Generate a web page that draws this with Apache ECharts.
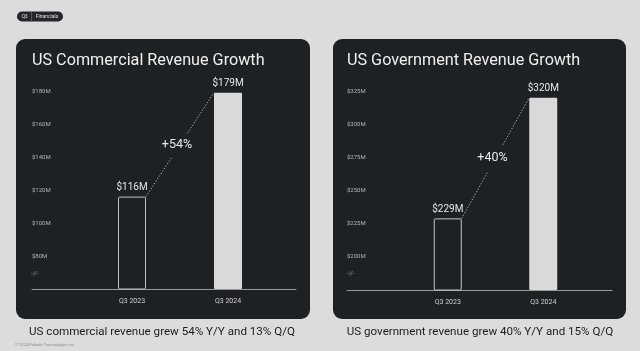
<!DOCTYPE html>
<html>
<head>
<meta charset="utf-8">
<script src="https://cdn.jsdelivr.net/npm/echarts@6/dist/echarts.min.js"></script>
<style>
  html, body { margin: 0; padding: 0; background: #dcdcdc; }
  #chart { width: 640px; height: 351px; }
</style>
</head>
<body>
<div id="chart"></div>
<script>
// data
const categories = ['Q3 2023', 'Q3 2024'];
const commercial = [116, 179];
const government = [229, 320];
const commercialTicks = [80, 100, 120, 140, 160, 180];
const governmentTicks = [200, 225, 250, 275, 300, 325];
const growth = ['+54%', '+40%'];
const titles = ['US Commercial Revenue Growth', 'US Government Revenue Growth'];
const captions = ['US commercial revenue grew 54% Y/Y and 13% Q/Q', 'US government revenue grew 40% Y/Y and 15% Q/Q'];

const FONT = 'Roboto, sans-serif';
const barW = 28;

// layout of each dark card
const panels = [
  { ticks: commercialTicks, values: commercial, growth: growth[0], axisL: 32, axisR: 296, barL: 84, barR: 276, bottom: 289 },
  { ticks: governmentTicks, values: government, growth: growth[1], axisL: 347, axisR: 612, barL: 400, barR: 591, bottom: 290 }
];

const grid = [], xAxis = [], yAxis = [], series = [];

panels.forEach(function (p, i) {
  const step = p.ticks[1] - p.ticks[0];
  const min = p.ticks[0] - step;
  const max = p.ticks[p.ticks.length - 1];
  const a = i * 2, b = i * 2 + 1;

  // full width grid: baseline + y labels
  grid.push({ left: p.axisL, right: 640 - p.axisR, top: 91, bottom: 351 - p.bottom });
  // narrower grid holding the bars
  grid.push({ left: p.barL, right: 640 - p.barR, top: 91, bottom: 351 - p.bottom });

  xAxis.push({
    gridIndex: a, type: 'value', min: 0, max: 1,
    axisLine: { show: true, lineStyle: { color: '#9a9a9a', width: 1 } },
    axisTick: { show: false }, axisLabel: { show: false }, splitLine: { show: false }
  });
  xAxis.push({
    gridIndex: b, type: 'category', data: categories,
    axisLine: { show: false }, axisTick: { show: false },
    axisLabel: { color: '#cfcfcf', fontSize: 7, fontFamily: FONT, margin: 9 }
  });

  yAxis.push({
    gridIndex: a, type: 'value', min: min, max: max, interval: step,
    axisLine: { show: false }, axisTick: { show: false }, splitLine: { show: false },
    axisLabel: {
      inside: true, margin: 0, color: '#b4b4b4', fontSize: 6, fontFamily: FONT,
      formatter: function (v) { return v === min ? '' : '$' + v + 'M'; }
    }
  });
  yAxis.push({
    gridIndex: b, type: 'value', min: min, max: max, interval: step, show: false
  });

  series.push({
    type: 'bar', xAxisIndex: b, yAxisIndex: b, barWidth: barW,
    data: p.values.map(function (v, k) {
      return k === 0
        ? { value: v, itemStyle: { color: 'rgba(0,0,0,0)', borderColor: '#c4c4c4', borderWidth: 1, borderRadius: 1 } }
        : { value: v, itemStyle: { color: '#d9d9d9', borderRadius: 1 } };
    }),
    label: {
      show: true, position: 'top', distance: 4, color: '#e6e6e6', fontSize: 10, fontFamily: FONT,
      formatter: function (d) { return '$' + d.value + 'M'; }
    },
    silent: true
  });

  // dotted connector from top-right of first bar to top-left of second
  series.push({
    type: 'custom', xAxisIndex: b, yAxisIndex: b,
    encode: { x: [0, 2], y: [1, 3] },
    data: [[0, p.values[0], 1, p.values[1]]],
    z: 3,
    renderItem: function (params, api) {
      const p1 = api.coord([api.value(0), api.value(1)]);
      const p2 = api.coord([api.value(2), api.value(3)]);
      const x1 = p1[0] + barW / 2, y1 = p1[1], x2 = p2[0] - barW / 2, y2 = p2[1];
      const at = function (t) { return [x1 + (x2 - x1) * t, y1 + (y2 - y1) * t]; };
      const g1 = at(0.38), g2 = at(0.61), m = at(0.5);
      const style = { stroke: '#b8b8b8', lineWidth: 1, lineDash: [1.2, 1.8] };
      return {
        type: 'group',
        children: [
          { type: 'line', shape: { x1: x1, y1: y1, x2: g1[0], y2: g1[1] }, style: style },
          { type: 'line', shape: { x1: g2[0], y1: g2[1], x2: x2, y2: y2 }, style: style },
          { type: 'text', x: m[0] - 3, y: m[1], style: { text: p.growth, fill: '#e8e8e8', fontSize: 12.5, fontFamily: FONT, align: 'center', verticalAlign: 'middle' } }
        ]
      };
    }
  });
});

const chart = echarts.init(document.getElementById('chart'));
chart.setOption({
  backgroundColor: '#dcdcdc',
  animation: false,
  title: [
    { text: titles[0], left: 32, top: 53, padding: 0, textStyle: { color: '#efefef', fontSize: 16.2, fontWeight: 'normal', fontFamily: FONT } },
    { text: titles[1], left: 347, top: 53, padding: 0, textStyle: { color: '#efefef', fontSize: 16.2, fontWeight: 'normal', fontFamily: FONT } },
    { text: captions[0], left: 162, textAlign: 'center', top: 326, padding: 0, textStyle: { color: '#1c1c1c', fontSize: 11.6, fontWeight: 'normal', fontFamily: FONT } },
    { text: captions[1], left: 480, textAlign: 'center', top: 326, padding: 0, textStyle: { color: '#1c1c1c', fontSize: 11.6, fontWeight: 'normal', fontFamily: FONT } }
  ],
  graphic: [
    { type: 'rect', z: -10, shape: { x: 16, y: 39, width: 294, height: 280, r: 9 }, style: { fill: '#1e2124' } },
    { type: 'rect', z: -10, shape: { x: 333, y: 39, width: 293, height: 280, r: 9 }, style: { fill: '#1e2124' } },
    { type: 'rect', shape: { x: 17, y: 11.5, width: 46, height: 10, r: 5 }, style: { fill: '#232529' } },
    { type: 'line', shape: { x1: 31.5, y1: 11.5, x2: 31.5, y2: 21.5 }, style: { stroke: '#777', lineWidth: 0.6 } },
    { type: 'text', x: 24.5, y: 16.5, style: { text: 'Q3', fill: '#e0e0e0', fontSize: 5, fontFamily: FONT, align: 'center', verticalAlign: 'middle' } },
    { type: 'text', x: 47, y: 16.5, style: { text: 'Financials', fill: '#e0e0e0', fontSize: 5, fontFamily: FONT, align: 'center', verticalAlign: 'middle' } },
    { type: 'text', x: 31, y: 273, style: { text: '-//-', fill: '#9a9a9a', fontSize: 6, fontFamily: FONT, verticalAlign: 'middle' } },
    { type: 'text', x: 347, y: 273, style: { text: '-//-', fill: '#9a9a9a', fontSize: 6, fontFamily: FONT, verticalAlign: 'middle' } },
    { type: 'text', x: 15, y: 344.5, style: { text: '© 2024 Palantir Technologies Inc.', fill: '#8a8a8a', fontSize: 4, fontFamily: FONT, verticalAlign: 'middle' } }
  ],
  grid: grid,
  xAxis: xAxis,
  yAxis: yAxis,
  series: series
});
</script>
</body>
</html>
